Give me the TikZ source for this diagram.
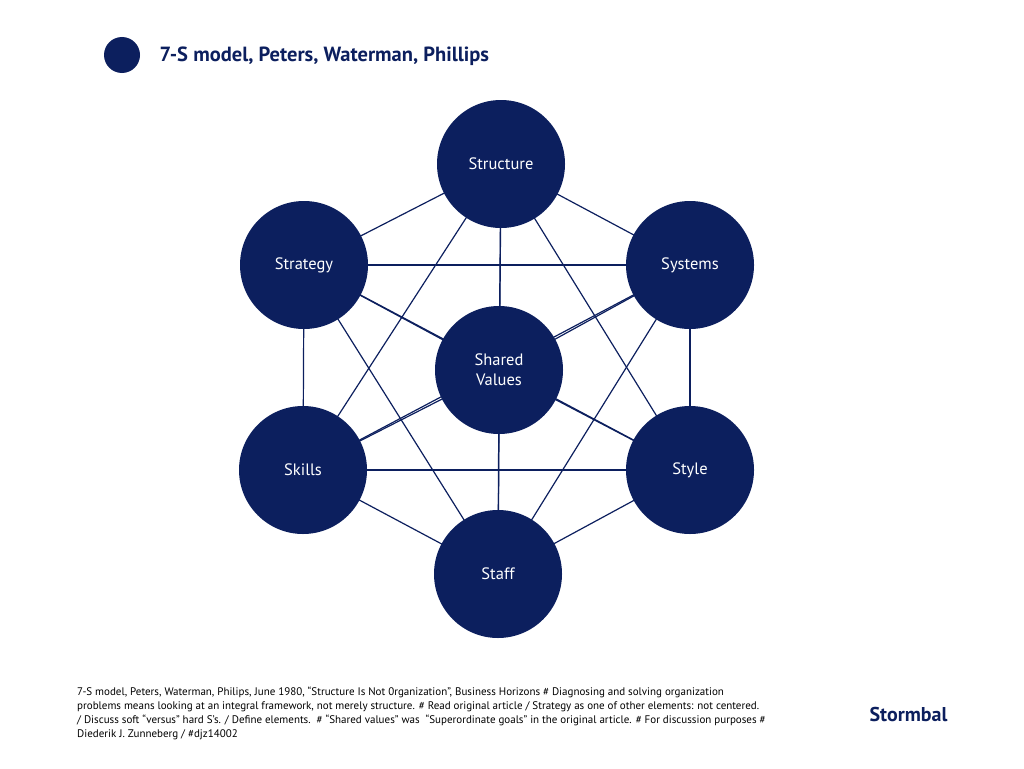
\documentclass[tikz,border=0pt]{standalone}
\usepackage{fontspec}
\setmainfont{PT Sans}
\newfontfamily\notefont{PT Sans}
\usetikzlibrary{backgrounds}
\definecolor{navy}{RGB}{12,31,94}
\tikzset{
  sball/.style={circle, fill=navy, draw=none, minimum size=128pt, inner sep=0pt,
    text=white, font=\fontsize{16.5}{20}\selectfont, align=center},
  link/.style={draw=navy, line width=1.2pt}
}
\begin{document}
\begin{tikzpicture}[x=1pt,y=-1pt]
\useasboundingbox (0,0) rectangle (1024,768);
% title
\node[circle, fill=navy, minimum size=36pt, inner sep=0pt] (dot) at (122,55) {};
\node[anchor=west, text=navy, font=\fontsize{20.5}{22}\selectfont\bfseries] (title) at (156,56) {7-S model, Peters, Waterman, Phillips};
% circles
\node[sball] (structure) at (501,164) {Structure};
\node[sball] (strategy) at (304,265) {Strategy};
\node[sball] (systems) at (690,265) {Systems};
\node[sball] (shared) at (499,370) {Shared\\Values};
\node[sball] (skills) at (303,470) {Skills};
\node[sball] (style) at (690,470) {Style};
\node[sball] (staff) at (498,574) {Staff};
\begin{pgfonlayer}{background}
\foreach \a/\b in {structure/strategy, structure/systems, structure/shared, structure/skills, structure/style, structure/staff,
  strategy/systems, strategy/shared, strategy/skills, strategy/style, strategy/staff,
  systems/shared, systems/skills, systems/style, systems/staff,
  shared/skills, shared/style, shared/staff,
  skills/style, skills/staff, style/staff}
  \draw[link] (\a.center) -- (\b.center);
\end{pgfonlayer}
% footnote
\node[anchor=north west, align=left, inner sep=0pt, text=black, font=\notefont\fontsize{11}{14}\selectfont] (note) at (77,687) {7-S model, Peters, Waterman, Philips, June 1980, “Structure Is Not 0rganization”, Business Horizons \# Diagnosing and solving organization\\
problems means looking at an integral framework, not merely structure. \# Read original article / Strategy as one of other elements: not centered.\\
/ Discuss soft “versus” hard S’s. / Define elements.\ \ \# “Shared values” was\ \ “Superordinate goals” in the original article. \# For discussion purposes \#\\
Diederik J. Zunneberg / \#djz14002};
\node[anchor=west, text=navy, font=\fontsize{20}{22}\selectfont\bfseries] (brand) at (866,714) {Stormbal};
\end{tikzpicture}
\end{document}
